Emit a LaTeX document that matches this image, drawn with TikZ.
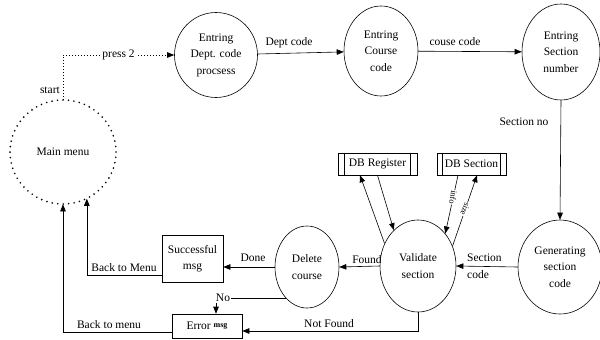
\documentclass[tikz,border=0pt]{standalone}
\usepackage{fontspec}
\setmainfont{Liberation Serif}
\usetikzlibrary{shapes.geometric,arrows.meta}
\begin{document}
\begin{tikzpicture}[x=1pt,y=-1pt,
  font=\fontsize{11.5}{16.5}\selectfont,
  proc/.style={draw, ellipse, inner sep=0pt, align=center, line width=0.6pt},
  box/.style={draw, rectangle, inner sep=0pt, align=center, line width=0.6pt},
  flow/.style={-{Triangle[length=7pt,width=5.5pt]}, line width=0.6pt},
  dotflow/.style={-{Triangle[length=7pt,width=5.5pt]}, line width=0.7pt, dash pattern=on 1pt off 2pt},
  mainline/.style={line width=1.8pt, dash pattern=on 0pt off 5.5pt, line cap=round},
  lbl/.style={inner sep=1pt},
  wlbl/.style={inner sep=1pt, fill=white},
  dblbl/.style={inner sep=0.5pt, fill=white, font=\fontsize{8.5}{8.5}\selectfont}]
\useasboundingbox (0,0) rectangle (600,340);

% processes
\node[proc, minimum width=106pt, minimum height=104pt, draw=none] (main) at (63,152) {Main menu};
\draw[mainline] (main.center) ellipse [x radius=53pt, y radius=52pt];
\node[proc, minimum width=83pt, minimum height=85pt] (dept) at (216,55) {Entring\\Dept. code\\procsess};
\node[proc, minimum width=74pt, minimum height=90pt] (course) at (381,51) {Entring\\Course\\code};
\node[proc, minimum width=78pt, minimum height=96pt] (secnum) at (561,52) {Entring\\Section\\number};
\node[proc, minimum width=84pt, minimum height=94pt] (gen) at (560,267) {Generating\\section\\code};
\node[proc, minimum width=76pt, minimum height=92pt] (valid) at (418,266) {Validate\\section};
\node[proc, minimum width=64pt, minimum height=82pt] (del) at (307,267) {Delete\\course};

% boxes
\node[box, minimum width=61pt, minimum height=47pt] (succ) at (192.5,258.5) {Successful\\msg};
\node[box, minimum width=70pt, minimum height=24pt] (err) at (207,326) {Error \raisebox{2.5pt}{\bfseries\fontsize{8}{8}\selectfont msg}};
\node[box, minimum width=79pt, minimum height=22pt] (dbreg) at (377.5,164) {DB Register};
\node[box, minimum width=69pt, minimum height=22pt] (dbsec) at (471.5,164) {DB Section};
\draw[line width=0.6pt] ([xshift=7pt]dbreg.north west) -- ([xshift=7pt]dbreg.south west);
\draw[line width=0.6pt] ([xshift=-7pt]dbreg.north east) -- ([xshift=-7pt]dbreg.south east);
\draw[line width=0.6pt] ([xshift=6pt]dbsec.north west) -- ([xshift=6pt]dbsec.south west);
\draw[line width=0.6pt] ([xshift=-6pt]dbsec.north east) -- ([xshift=-6pt]dbsec.south east);

% start flow
\draw[dotflow] (main.north) |- (dept.west)
  node[pos=0.75, wlbl] {press 2};
\node[lbl, anchor=east] at (61,90) {start};

% top flow
\draw[flow] (dept) -- (course);
\node[lbl] at (289,43) {Dept code};
\draw[flow] (course) -- (secnum);
\node[lbl] at (455,42) {couse code};
\draw[flow] (secnum.south) -- (gen.north);
\node[lbl] at (524,122) {Section no};

% lower flow
\draw[flow] (gen.west) -- (valid.east);
\node[lbl, align=left, anchor=west] at (466,266) {Section\\code};
\draw[flow] (valid.west) -- (del.east);
\node[lbl] at (367,260) {Found};
\draw[flow] (del.west) -- (del.west -| succ.east);
\node[lbl] at (253,258) {Done};
\draw[flow] ([yshift=-16.5pt]succ.west) -| (main.-63);
\node[lbl] at (124,268) {Back to Menu};
\draw[flow] (del.-124) -| ([xshift=9pt]err.north)
  node[pos=0.45, wlbl] {No};
\draw[flow] (valid.south) |- ([yshift=-5pt]err.east);
\node[lbl] at (329,324) {Not Found};
\draw[flow] ([yshift=-6pt]err.west) -| (main.south);
\node[lbl] at (109,325) {Back to menu};

% database flows
\draw[flow] (valid.146) -- ([xshift=-17.5pt]dbreg.south);
\draw[flow] (dbreg.south) -- (valid.124);
\draw[flow] ([xshift=-13.5pt]dbsec.south) -- (valid.50)
  node[pos=0.38, dblbl, rotate=-100] {info};
\draw[flow] (valid.30) -- ([xshift=5.5pt]dbsec.south)
  node[pos=0.52, dblbl, rotate=-110] {size};
\end{tikzpicture}
\end{document}
